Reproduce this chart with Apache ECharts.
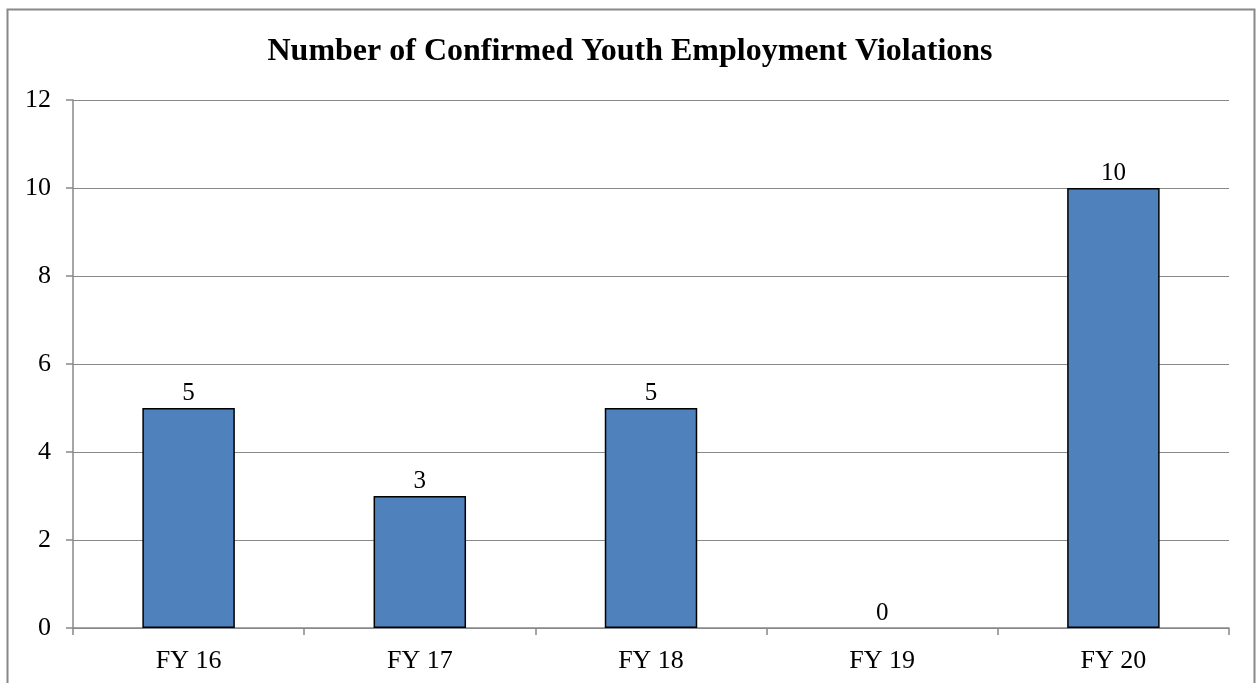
<!DOCTYPE html>
<html>
<head>
<meta charset="utf-8">
<script src="https://cdn.jsdelivr.net/npm/echarts@6/dist/echarts.min.js"></script>
<style>
  html, body { margin: 0; padding: 0; background: #fff; }
  #chart { width: 1260px; height: 683px; }
</style>
</head>
<body>
<div id="chart"></div>
<script>
// 数据
const categories = ["FY 16", "FY 17", "FY 18", "FY 19", "FY 20"];
const violations = [5, 3, 5, 0, 10];

const font = "'Liberation Serif', 'Times New Roman', serif";
const myChart = echarts.init(document.getElementById("chart"));

// 值为 0 的柱子不画边框
const barData = violations.map((v) =>
  v === 0 ? { value: v, itemStyle: { borderWidth: 0 } } : v
);

const option = {
  animation: false,
  backgroundColor: "#fff",
  graphic: [
    {
      // 外框
      type: "rect",
      shape: { x: 7.5, y: 9.5, width: 1247, height: 700 },
      style: { fill: "none", stroke: "#888", lineWidth: 2 },
      silent: true,
    },
  ],
  title: {
    text: "Number of Confirmed Youth Employment Violations",
    left: "center",
    top: 31,
    textStyle: { fontFamily: font, fontSize: 32, fontWeight: "bold", color: "#000" },
  },
  grid: { left: 73, right: 31, top: 100, bottom: 55 },
  xAxis: {
    type: "category",
    data: categories,
    axisLine: { lineStyle: { color: "#888", width: 1.5 } },
    axisTick: { show: true, length: 7, lineStyle: { color: "#888", width: 1.5 } },
    axisLabel: { fontFamily: font, fontSize: 26, color: "#000", margin: 20 },
  },
  yAxis: {
    type: "value",
    min: 0,
    max: 12,
    interval: 2,
    axisLine: { show: true, lineStyle: { color: "#888", width: 1.5 } },
    axisTick: { show: true, length: 7, lineStyle: { color: "#888", width: 1.5 } },
    splitLine: { lineStyle: { color: "#888", width: 1.2 } },
    axisLabel: { fontFamily: font, fontSize: 26, color: "#000", margin: 22 },
  },
  series: [
    {
      type: "bar",
      data: barData,
      barWidth: "40%",
      itemStyle: { color: "#4F81BD", borderColor: "#000", borderWidth: 1.5 },
      label: {
        show: true,
        position: "top",
        distance: 2,
        fontFamily: font,
        fontSize: 25,
        color: "#000",
      },
    },
  ],
};

myChart.setOption(option);
</script>
</body>
</html>
